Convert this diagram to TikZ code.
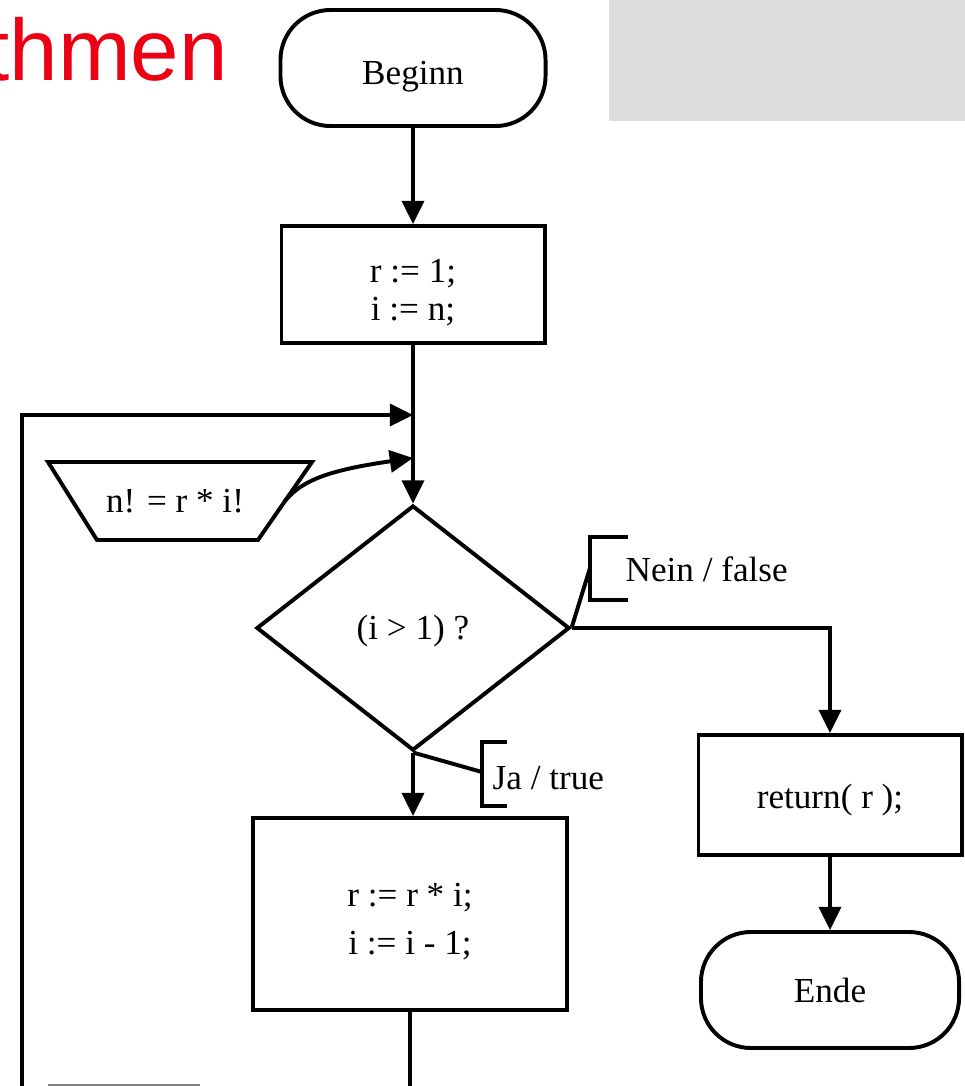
\documentclass[tikz,border=0pt]{standalone}
\usepackage{fontspec}
\setmainfont{Liberation Serif}
\newfontfamily\titlefont{Liberation Sans}
\usetikzlibrary{arrows.meta,shapes.geometric}
\definecolor{titlered}{RGB}{235,0,20}
\definecolor{panelgray}{RGB}{220,220,220}
\tikzset{
  ln/.style={line width=2.8pt},
  arr/.style={ln,-{Triangle[length=0.58cm,width=0.55cm]}},
  base/.style={draw,ln,align=center,inner sep=0pt,font=\fontsize{25}{27}\selectfont},
  terminal/.style={base,rounded corners=1.25cm},
  procbox/.style={base},
  decision/.style={base,diamond,aspect=1.28},
  iotext/.style={inner sep=0pt,font=\fontsize{25}{27}\selectfont},
  lbl/.style={inner sep=1pt,font=\fontsize{25}{27}\selectfont},
}
\newcommand{\dropstrut}[1]{\rule{0pt}{#1}}
\begin{document}
\begin{tikzpicture}[x=0.025cm,y=-0.025cm]
\useasboundingbox (0,0) rectangle (965,1086);
\clip (0,0) rectangle (965,1086);
% header
\fill[panelgray] (609,0) rectangle (965,121);
\node[anchor=base east,inner sep=0pt,text=titlered,font=\titlefont\fontsize{62}{70}\selectfont] (title) at (228,80) {thmen};
% nodes
\node[terminal,minimum width=6.625cm,minimum height=2.9cm] (start) at (413,68) {\dropstrut{29pt}Beginn};
\node[procbox,minimum width=6.575cm,minimum height=2.925cm] (init) at (413,284.5) {\dropstrut{28pt}r := 1;\\ i := n;};
\node[decision,minimum width=7.825cm,minimum height=6.125cm] (dec) at (413,628) {\dropstrut{22pt}(i > 1) ?};
\node[procbox,minimum width=7.85cm,minimum height=4.8cm] (body) at (410,914) {\dropstrut{27pt}r := r * i;\\[7pt] i := i - 1;};
\node[procbox,minimum width=6.575cm,minimum height=3.0cm] (ret) at (830,795) {\dropstrut{24pt}return( r );};
\node[terminal,minimum width=6.45cm,minimum height=2.9cm] (stop) at (830,990) {Ende};
% input/output trapezium drawn directly, text as a named node
\draw[ln,line join=miter] (48,462) -- (312,462) -- (258,540) -- (97,540) -- cycle;
\node[iotext] (inv) at (175,501) {n! = r * i!};
\coordinate (invE) at (285,501);
% junction points
\coordinate (j1) at (413,415);
\coordinate (j2) at (413,458);
\coordinate (loopL) at (22,1090);
\coordinate (loopB) at (410,1090);
% connectors
\draw[arr] (start.south) -- (init.north);
\draw[arr] (init.south) -- (dec.north);
\draw[arr] (dec.south) -- (dec.south |- body.north);
\draw[arr] (dec.east) -| (ret.north);
\draw[arr] (ret.south) -- (stop.north);
\draw[ln] (body.south) -- (loopB);
\draw[arr] (loopL) |- (j1);
\draw[arr] (invE) .. controls (302,480) and (330,470) .. (j2);
% labels
\coordinate (nb) at (590,568);
\draw[ln] (628,537) -- (590,537) -- (590,600) -- (628,600);
\draw[ln] (dec.east) -- (nb);
\node[lbl,anchor=west] (nein) at (624,569) {Nein / false};
\coordinate (jb) at (482,772);
\draw[ln] (507,742) -- (482,742) -- (482,806) -- (507,806);
\draw[ln] (dec.south) -- (jb);
\node[lbl,anchor=west] (ja) at (491,778) {Ja / true};
% partial line at bottom edge
\draw[gray,line width=1.2pt] (48,1085) -- (200,1085);
\end{tikzpicture}
\end{document}
